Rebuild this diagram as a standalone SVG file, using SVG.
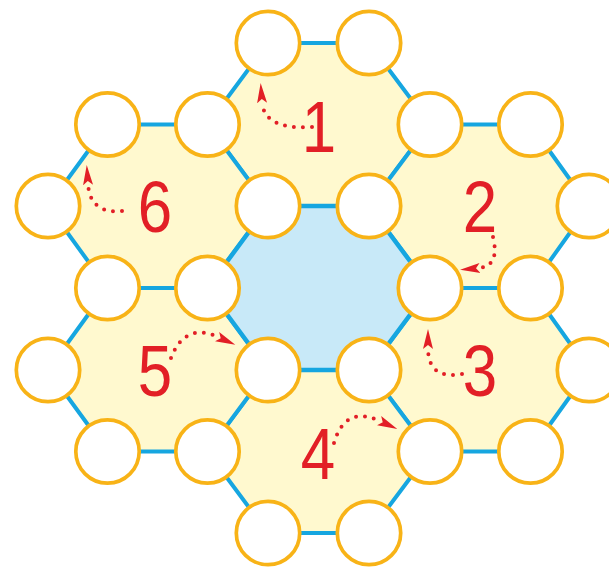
<svg xmlns="http://www.w3.org/2000/svg" width="609" height="569" viewBox="0 0 609 569">
<style>
.cell{fill:#fff9cf;stroke:#16a6e0;stroke-width:4;stroke-linejoin:round}
.core{fill:#c8e9f8;stroke:#16a6e0;stroke-width:4.5;stroke-linejoin:round}
.dot{fill:#ffffff;stroke:#f8b317;stroke-width:3.7}
.num{font-family:"Liberation Sans",Arial,sans-serif;font-size:72px;fill:#e21f26;text-anchor:middle}
.arr{fill:none;stroke:#e21f26;stroke-width:4;stroke-linecap:round;stroke-dasharray:0 9;marker-end:url(#ah)}
</style>
<defs>
<marker id="ah" markerUnits="userSpaceOnUse" markerWidth="22" markerHeight="12" refX="1" refY="5.5" orient="auto" viewBox="0 0 22 11">
<path d="M0,0.5 L20,5.5 L0,10.5 L4,5.5 Z" fill="#e21f26"/>
</marker>
</defs>
<g id="cells">
<polygon id="cell-1" class="cell" points="268,43 369,43 430,124.5 369,206 268,206 207.5,124.5"/>
<polygon id="cell-2" class="cell" points="430,124.5 530.5,124.5 589,206 530.5,288 430,288 369,206"/>
<polygon id="cell-3" class="cell" points="430,288 530.5,288 589,370 530.5,451.5 430,451.5 369,370"/>
<polygon id="cell-4" class="cell" points="268,370 369,370 430,451.5 369,533 268,533 207.5,451.5"/>
<polygon id="cell-5" class="cell" points="107.5,288 207.5,288 268,370 207.5,451.5 107.5,451.5 48,370"/>
<polygon id="cell-6" class="cell" points="107.5,124.5 207.5,124.5 268,206 207.5,288 107.5,288 48,206"/>
<polygon id="cell-center" class="core" points="268,206 369,206 430,288 369,370 268,370 207.5,288"/>
</g>
<g id="circles">
<g id="c1"><circle class="dot" cx="268" cy="43" r="31.7"/></g>
<g id="c2"><circle class="dot" cx="369" cy="43" r="31.7"/></g>
<g id="c3"><circle class="dot" cx="107.5" cy="124.5" r="31.7"/></g>
<g id="c4"><circle class="dot" cx="207.5" cy="124.5" r="31.7"/></g>
<g id="c5"><circle class="dot" cx="430" cy="124.5" r="31.7"/></g>
<g id="c6"><circle class="dot" cx="530.5" cy="124.5" r="31.7"/></g>
<g id="c7"><circle class="dot" cx="48" cy="206" r="31.7"/></g>
<g id="c8"><circle class="dot" cx="268" cy="206" r="31.7"/></g>
<g id="c9"><circle class="dot" cx="369" cy="206" r="31.7"/></g>
<g id="c10"><circle class="dot" cx="589" cy="206" r="31.7"/></g>
<g id="c11"><circle class="dot" cx="107.5" cy="288" r="31.7"/></g>
<g id="c12"><circle class="dot" cx="207.5" cy="288" r="31.7"/></g>
<g id="c13"><circle class="dot" cx="430" cy="288" r="31.7"/></g>
<g id="c14"><circle class="dot" cx="530.5" cy="288" r="31.7"/></g>
<g id="c15"><circle class="dot" cx="48" cy="370" r="31.7"/></g>
<g id="c16"><circle class="dot" cx="268" cy="370" r="31.7"/></g>
<g id="c17"><circle class="dot" cx="369" cy="370" r="31.7"/></g>
<g id="c18"><circle class="dot" cx="589" cy="370" r="31.7"/></g>
<g id="c19"><circle class="dot" cx="107.5" cy="451.5" r="31.7"/></g>
<g id="c20"><circle class="dot" cx="207.5" cy="451.5" r="31.7"/></g>
<g id="c21"><circle class="dot" cx="430" cy="451.5" r="31.7"/></g>
<g id="c22"><circle class="dot" cx="530.5" cy="451.5" r="31.7"/></g>
<g id="c23"><circle class="dot" cx="268" cy="533" r="31.7"/></g>
<g id="c24"><circle class="dot" cx="369" cy="533" r="31.7"/></g>
</g>
<g id="labels">
<text class="num" transform="translate(319,152) scale(0.86,1)">1</text>
<text class="num" transform="translate(480,232) scale(0.86,1)">2</text>
<text class="num" transform="translate(480,396) scale(0.86,1)">3</text>
<text class="num" transform="translate(318,479) scale(0.86,1)">4</text>
<text class="num" transform="translate(155,396) scale(0.86,1)">5</text>
<text class="num" transform="translate(155,232) scale(0.86,1)">6</text>
</g>
<g id="connectors">
<path class="arr" d="M312,127 Q264,130 262,102"/>
<path class="arr" d="M493,237 Q500,266 479,268"/>
<path class="arr" d="M462,374 Q428,380 428,348"/>
<path class="arr" d="M334,443 Q345,405 380,421"/>
<path class="arr" d="M171,358 Q185,322 218,337"/>
<path class="arr" d="M122,211 Q90,214 88,184"/>
</g>
</svg>
